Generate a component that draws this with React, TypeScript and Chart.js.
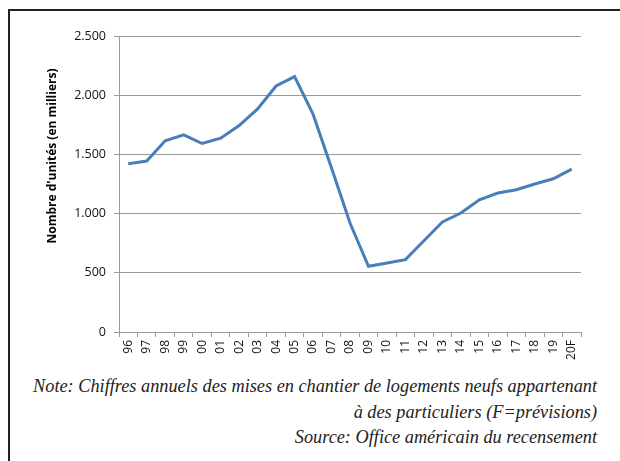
import React, { useEffect, useRef } from "react";
import { Chart, registerables } from "chart.js";

Chart.register(...registerables);

const categories = ["96", "97", "98", "99", "00", "01", "02", "03", "04", "05", "06", "07", "08", "09", "10", "11", "12", "13", "14", "15", "16", "17", "18", "19", "20F"];
const starts = [1421, 1444, 1615, 1665, 1592, 1637, 1744, 1884, 2078, 2157, 1840, 1385, 920, 555, 583, 611, 771, 929, 1005, 1117, 1174, 1201, 1250, 1294, 1376];
const yTicks = [0, 500, 1000, 1500, 2000, 2500];
const yTitle = "Nombre d'unités (en milliers)";
const noteLines = [
  "Note: Chiffres annuels des mises en chantier de logements neufs appartenant",
  "à des particuliers (F=prévisions)",
  "Source: Office américain du recensement",
];

const FONT = "'Open Sans', 'DejaVu Sans', sans-serif";

const fmt = (v: number) => {
  const s = String(Math.round(v));
  return s.replace(/\B(?=(\d{3})+(?!\d))/g, ".");
};

export default function App() {
  const ref = useRef<HTMLCanvasElement | null>(null);

  useEffect(() => {
    const canvas = ref.current;
    if (!canvas) return;
    const titlePlugin = {
      id: "yTitlePlugin",
      afterDraw(chart: any) {
        const ctx = chart.ctx;
        ctx.save();
        ctx.translate(53, 156);
        ctx.rotate(-Math.PI / 2);
        ctx.font = `bold 12px ${FONT}`;
        ctx.fillStyle = "#000";
        ctx.textAlign = "center";
        ctx.textBaseline = "middle";
        ctx.fillText(yTitle, 0, 0);
        ctx.restore();
      },
    };
    const chart = new Chart(canvas, {
      type: "line",
      data: {
        labels: categories,
        datasets: [
          {
            data: starts,
            borderColor: "rgb(74,126,187)",
            backgroundColor: "rgb(74,126,187)",
            borderWidth: 3,
            pointRadius: 0,
            tension: 0,
            fill: false,
          },
        ],
      },
      options: {
        animation: false,
        responsive: false,
        maintainAspectRatio: false,
        layout: { padding: { top: 36, right: 39, left: 0, bottom: 0 } },
        plugins: { legend: { display: false }, tooltip: { enabled: false } },
        scales: {
          x: {
            type: "category",
            offset: true,
            grid: {
              drawOnChartArea: false,
              offset: true,
              tickLength: 5,
              color: "#999",
            },
            border: { color: "#999" },
            ticks: {
              autoSkip: false,
              minRotation: 90,
              maxRotation: 90,
              padding: 3,
              color: "#111",
              font: { family: FONT, size: 12 },
            },
            afterFit(scale: any) {
              scale.height = 38;
            },
          },
          y: {
            min: 0,
            max: 2500,
            afterBuildTicks(scale: any) {
              scale.ticks = yTicks.map((v) => ({ value: v }));
            },
            grid: { color: "#999", tickLength: 5 },
            border: { color: "#999" },
            ticks: {
              padding: 8,
              color: "#111",
              font: { family: FONT, size: 12.5 },
              callback: (v: any) => fmt(Number(v)),
            },
            afterFit(scale: any) {
              scale.width = 119;
            },
          },
        },
      },
      plugins: [titlePlugin],
    } as any);
    return () => chart.destroy();
  }, []);

  return (
    <div style={{ position: "fixed", left: 0, top: 0, width: 620, height: 461, overflow: "hidden", background: "#fff" }}>
      <div
        style={{
          position: "absolute",
          left: 8,
          top: 9,
          width: 700,
          height: 500,
          borderTop: "2px solid #222",
          borderLeft: "2px solid #222",
        }}
      />
      <canvas ref={ref} width={620} height={370} style={{ position: "absolute", left: 0, top: 0, width: 620, height: 370 }} />
      <div
        style={{
          position: "absolute",
          right: 23,
          top: 374,
          width: 600,
          textAlign: "right",
          fontFamily: "'Liberation Serif', 'Times New Roman', serif",
          fontStyle: "italic",
          fontSize: 18.3,
          lineHeight: "25.5px",
          color: "#222",
        }}
      >
        {noteLines.map((l, i) => (
          <div key={i} style={{ whiteSpace: "nowrap" }}>{l}</div>
        ))}
      </div>
    </div>
  );
}
